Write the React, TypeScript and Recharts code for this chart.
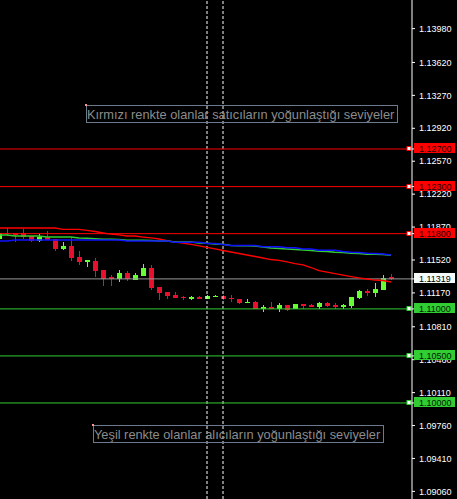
import React from 'react';
import { ComposedChart, Bar, Line, XAxis, YAxis, ReferenceLine, ReferenceDot } from 'recharts';

const openP = [1.11743,1.11807,1.11804,1.11810,1.11775,1.11725,1.11768,1.11743,1.11637,1.11669,1.11549,1.11502,1.11506,1.11414,1.11343,1.11318,1.11378,1.11307,1.11350,1.11432,1.11230,1.11180,1.11148,1.11127,1.11109,1.11130,1.11109,1.11134,1.11137,1.11120,1.11105,1.11066,1.11074,1.10996,1.11024,1.10999,1.11042,1.10996,1.11056,1.11045,1.11024,1.11066,1.11045,1.11024,1.11035,1.11120,1.11187,1.11169,1.11201,1.11335];
const highP = [1.11817,1.11860,1.11807,1.11846,1.11775,1.11796,1.11831,1.11743,1.11711,1.11761,1.11615,1.11520,1.11538,1.11414,1.11360,1.11414,1.11403,1.11385,1.11477,1.11467,1.11230,1.11180,1.11180,1.11141,1.11137,1.11137,1.11151,1.11151,1.11151,1.11148,1.11105,1.11105,1.11084,1.11042,1.11077,1.11059,1.11042,1.11052,1.11056,1.11056,1.11077,1.11077,1.11059,1.11056,1.11130,1.11201,1.11212,1.11272,1.11360,1.11371];
const lowP = [1.11738,1.11770,1.11714,1.11746,1.11714,1.11708,1.11732,1.11615,1.11626,1.11512,1.11467,1.11442,1.11343,1.11244,1.11244,1.11290,1.11297,1.11307,1.11350,1.11201,1.11095,1.11105,1.11116,1.11095,1.11095,1.11100,1.11102,1.11130,1.11098,1.11077,1.11056,1.11066,1.11003,1.10971,1.10996,1.10971,1.10981,1.10996,1.10996,1.11020,1.11003,1.11020,1.11003,1.10999,1.11013,1.11102,1.11141,1.11130,1.11201,1.11307];
const closeP = [1.11807,1.11796,1.11782,1.11768,1.11725,1.11768,1.11732,1.11637,1.11669,1.11546,1.11502,1.11520,1.11406,1.11321,1.11318,1.11378,1.11315,1.11357,1.11432,1.11226,1.11173,1.11141,1.11116,1.11113,1.11130,1.11105,1.11137,1.11141,1.11105,1.11102,1.11066,1.11077,1.11003,1.11024,1.11003,1.11042,1.10992,1.11052,1.11035,1.11024,1.11066,1.11035,1.11024,1.11045,1.11130,1.11190,1.11169,1.11215,1.11329,1.11319];

const maRed = [1.11860,1.11860,1.11860,1.11860,1.11860,1.11860,1.11860,1.11860,1.11846,1.11846,1.11846,1.11835,1.11823,1.11807,1.11796,1.11786,1.11775,1.11775,1.11764,1.11754,1.11743,1.11725,1.11711,1.11700,1.11685,1.11669,1.11653,1.11637,1.11621,1.11605,1.11589,1.11573,1.11557,1.11541,1.11525,1.11515,1.11499,1.11482,1.11467,1.11440,1.11408,1.11392,1.11376,1.11360,1.11344,1.11329,1.11318,1.11307,1.11302,1.11286];
const maGreen = [1.11786,1.11786,1.11775,1.11775,1.11775,1.11775,1.11764,1.11764,1.11764,1.11764,1.11754,1.11750,1.11746,1.11740,1.11740,1.11738,1.11729,1.11729,1.11729,1.11727,1.11722,1.11722,1.11711,1.11711,1.11711,1.11700,1.11697,1.11690,1.11687,1.11674,1.11672,1.11672,1.11669,1.11658,1.11647,1.11642,1.11637,1.11631,1.11626,1.11621,1.11612,1.11610,1.11602,1.11600,1.11591,1.11589,1.11580,1.11580,1.11578,1.11570];
const maBlue = [1.11722,1.11722,1.11732,1.11732,1.11732,1.11732,1.11732,1.11732,1.11732,1.11732,1.11732,1.11732,1.11732,1.11732,1.11732,1.11732,1.11722,1.11722,1.11722,1.11722,1.11722,1.11722,1.11708,1.11708,1.11708,1.11708,1.11695,1.11695,1.11685,1.11674,1.11674,1.11674,1.11674,1.11661,1.11661,1.11661,1.11651,1.11651,1.11637,1.11637,1.11623,1.11623,1.11623,1.11610,1.11602,1.11600,1.11591,1.11589,1.11584,1.11573];

const priceTicks = [1.1398, 1.1362, 1.1327, 1.1292, 1.1257, 1.1222, 1.1187, 1.1152, 1.1117, 1.1081, 1.1046, 1.1011, 1.0976, 1.0941, 1.0906];
const priceDomain = [1.08979, 1.14284];
const redLevels = [1.127, 1.123, 1.118];
const greenLevels = [1.11, 1.105, 1.1];
const currentPrice = 1.11319;
const verticalMarks = [26, 28];
const SLOTS = 52;
const annotations = [
  { text: 'Kırmızı renkte olanlar satıcıların yoğunlaştığı seviyeler', slot: 11, price: 1.13168, dx: -1.5, w: 311 },
  { text: 'Yeşil renkte olanlar alıcıların yoğunlaştığı seviyeler', slot: 12, price: 1.09766, dx: -2, w: 290 },
];

const RED = '#E8102C';
const GREEN = '#66FF33';
const LEVEL_RED = '#FF0000';
const LEVEL_GREEN = '#32CD32';
const FONT = '"Liberation Sans", Arial, sans-serif';

const allTicks = [...priceTicks, ...redLevels, ...greenLevels, currentPrice];

const rows = Array.from({ length: SLOTS }, (_, i) => {
  if (i >= openP.length) return { i, range: null, open: null, high: null, low: null, close: null, maR: null, maG: null, maB: null };
  return {
    i,
    open: openP[i],
    high: highP[i],
    low: lowP[i],
    close: closeP[i],
    range: [lowP[i], highP[i]],
    maR: maRed[i],
    maG: maGreen[i],
    maB: maBlue[i],
  };
});

const Candle = (props: any) => {
  const { x, y, width, height, payload } = props;
  if (!payload || payload.open == null || !isFinite(y) || !isFinite(height)) return <g />;
  const { open, close, high, low } = payload;
  const span = high - low || 1e-9;
  const px = (v: number) => y + ((high - v) / span) * height;
  const up = close >= open;
  const color = up ? GREEN : RED;
  const c = Math.floor(x + width / 2);
  const top = Math.round(px(Math.max(open, close)));
  const bot = Math.round(px(Math.min(open, close)));
  return (
    <g>
      <line x1={c + 0.5} x2={c + 0.5} y1={Math.round(y)} y2={Math.round(y + height)} stroke={color} strokeWidth={1} shapeRendering="crispEdges" />
      <rect x={c - 2} y={top} width={5} height={Math.max(1, bot - top)} fill={color} shapeRendering="crispEdges" />
    </g>
  );
};

const levelBox = (v: number) => {
  if (redLevels.includes(v)) return { bg: LEVEL_RED, fg: '#200000' };
  if (greenLevels.includes(v)) return { bg: LEVEL_GREEN, fg: '#002000' };
  if (v === currentPrice) return { bg: '#F4FAFA', fg: '#000' };
  return null;
};

const PriceTick = (props: any) => {
  const { x, y, payload } = props;
  const v = payload.value as number;
  const box = levelBox(v);
  if (box) {
    const yy = Math.round(y);
    return (
      <g>
        <rect x={x - 5} y={yy - 6} width={41} height={10} fill={box.bg} />
        <text x={x} y={yy + 3} fill={box.fg} fontSize={9} fontFamily={FONT}>{v.toFixed(5)}</text>
      </g>
    );
  }
  return (
    <text x={x} y={y} dy="0.355em" fill="#fff" fontSize={9} fontFamily={FONT}>{v.toFixed(5)}</text>
  );
};

const Marker = (props: any) => {
  const { viewBox, color } = props;
  if (!viewBox) return null;
  const right = viewBox.x + viewBox.width;
  const yy = Math.round(viewBox.y);
  return <rect x={right - 5} y={yy - 2.5} width={4} height={4} fill="#fff" stroke={color} strokeWidth={1} />;
};

const Annotation = (props: any) => {
  const { cx, cy, text, dx, w } = props;
  if (cx == null || cy == null) return <g />;
  const left = Math.round(cx + dx) + 0.5;
  const top = Math.round(cy) + 0.5;
  return (
    <g>
      <rect x={left} y={top} width={w} height={17} fill="none" stroke="#6b7b8c" strokeWidth={1} />
      <rect x={left - 1.5} y={top - 1.5} width={2} height={2} fill="#ff9090" />
      <text x={left + 0.5} y={top + 13.5} fill="#8c8c8c" fontSize={12.8} fontFamily={FONT}>{text}</text>
    </g>
  );
};

export default function App() {
  return (
    <div style={{ position: 'absolute', left: -5, top: 0, width: 462, height: 499, background: '#000', overflow: 'hidden' }}>
      <ComposedChart width={462} height={499} data={rows} margin={{ top: 0, right: 0, bottom: 0, left: 0 }}>
        <XAxis dataKey="i" type="category" hide padding={{ left: 0, right: 1 }} />
        <YAxis
          orientation="right"
          type="number"
          width={45}
          domain={priceDomain}
          allowDataOverflow
          ticks={allTicks}
          interval={0}
          tick={(p: any) => <PriceTick {...p} />}
          tickSize={3}
          tickMargin={4}
          axisLine={{ stroke: '#fff' }}
          tickLine={{ stroke: '#fff' }}
        />
        {verticalMarks.map((v) => (
          <ReferenceLine key={'v' + v} x={v} stroke="#fff" strokeDasharray="3 2" />
        ))}
        {redLevels.map((lv) => (
          <ReferenceLine key={'r' + lv} y={lv} stroke={LEVEL_RED} strokeWidth={1}
            label={(p: any) => <Marker {...p} color={LEVEL_RED} />} />
        ))}
        {greenLevels.map((lv) => (
          <ReferenceLine key={'g' + lv} y={lv} stroke={LEVEL_GREEN} strokeWidth={1}
            label={(p: any) => <Marker {...p} color={LEVEL_GREEN} />} />
        ))}
        <ReferenceLine y={currentPrice} stroke="#9a9a9a" strokeWidth={1} />
        <Line dataKey="maR" type="linear" stroke="#FF0000" strokeWidth={1.3} dot={false} activeDot={false} isAnimationActive={false} />
        <Line dataKey="maG" type="linear" stroke="#32CD32" strokeWidth={1.5} dot={false} activeDot={false} isAnimationActive={false} />
        <Line dataKey="maB" type="linear" stroke="#1010FF" strokeWidth={1.5} dot={false} activeDot={false} isAnimationActive={false} />
        <Bar dataKey="range" barSize={5} isAnimationActive={false} shape={(p: any) => <Candle {...p} />} />
        {annotations.map((a) => (
          <ReferenceDot key={a.slot} x={a.slot} y={a.price} r={0} ifOverflow="visible"
            shape={(p: any) => <Annotation {...p} text={a.text} dx={a.dx} w={a.w} />} />
        ))}
      </ComposedChart>
    </div>
  );
}
